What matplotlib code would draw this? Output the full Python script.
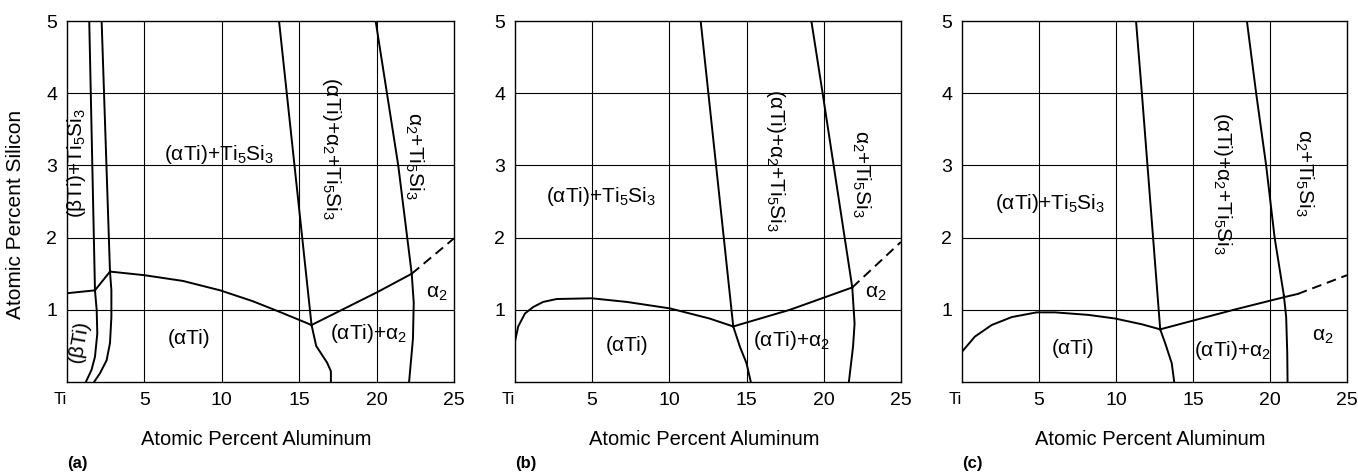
# Ti-Al-Si isothermal sections, Ti-rich corner: three panels (a), (b), (c)
from matplotlib import pyplot as plt
import matplotlib

matplotlib.use('Agg')
plt.rcParams['font.family'] = ['Liberation Sans', 'DejaVu Sans']
plt.rcParams['mathtext.fontset'] = 'custom'
plt.rcParams['mathtext.rm'] = 'Liberation Sans'
plt.rcParams['mathtext.it'] = 'Liberation Sans:italic'

# Axis ticks
x_ticks = [0, 5, 10, 15, 20, 25]
x_ticklabels = ['Ti', '5', '10', '15', '20', '25']
y_ticks = [1, 2, 3, 4, 5]

# ---- panel (a) boundaries: x = at.% Al, y = at.% Si
a_bti_top_x = [1.44, 1.81]
a_bti_top_y = [5.0, 1.27]
a_bti_low_x = [1.81, 1.92, 1.96, 1.81, 1.59, 1.22]
a_bti_low_y = [1.27, 1.0, 0.67, 0.35, 0.17, 0.0]
a_ati_top_x = [2.24, 2.78]
a_ati_top_y = [5.0, 1.53]
a_ati_low_x = [2.78, 2.87, 2.87, 2.78, 2.56, 2.13, 1.75]
a_ati_low_y = [1.53, 1.27, 0.90, 0.54, 0.30, 0.12, 0.0]
a_tie_left_x = [0.0, 1.81, 2.78]
a_tie_left_y = [1.23, 1.27, 1.53]
a_solv_x = [2.78, 5.0, 7.5, 9.9, 12.0, 13.76, 15.8]
a_solv_y = [1.53, 1.48, 1.40, 1.27, 1.12, 0.97, 0.79]
a_three_x = [13.7, 15.8]
a_three_y = [5.0, 0.79]
a_a2low_x = [15.8, 16.1, 16.8, 17.05, 17.05]
a_a2low_y = [0.79, 0.5, 0.27, 0.15, 0.0]
a_tie_right_x = [15.8, 20.0, 22.27]
a_tie_right_y = [0.79, 1.24, 1.50]
a_dash_x = [22.27, 25.0]
a_dash_y = [1.50, 1.99]
a_a2top_x = [19.94, 21.4, 22.27]
a_a2top_y = [5.0, 3.0, 1.50]
a_a2right_x = [22.27, 22.4, 22.35, 22.1]
a_a2right_y = [1.50, 1.1, 0.6, 0.0]

# ---- panel (b)
b_solv_x = [0.0, 0.21, 0.65, 1.19, 1.83, 2.7, 4.97, 7.23, 10.04, 12.6, 14.14]
b_solv_y = [0.56, 0.77, 0.95, 1.04, 1.11, 1.15, 1.16, 1.11, 1.02, 0.88, 0.77]
b_three_x = [12.03, 14.14]
b_three_y = [5.0, 0.77]
b_a2low_x = [14.14, 14.57, 15.0, 15.28]
b_a2low_y = [0.77, 0.49, 0.26, 0.0]
b_tie_right_x = [14.14, 17.8, 21.85]
b_tie_right_y = [0.77, 1.0, 1.31]
b_dash_x = [21.85, 25.0]
b_dash_y = [1.31, 1.94]
b_a2top_x = [19.2, 19.93, 21.85]
b_a2top_y = [5.0, 4.0, 1.31]
b_a2right_x = [21.85, 22.0, 21.9, 21.63]
b_a2right_y = [1.31, 0.81, 0.49, 0.0]

# ---- panel (c)
c_solv_x = [0.0, 0.84, 1.93, 3.23, 4.85, 6.04, 8.21, 9.94, 11.68, 12.87]
c_solv_y = [0.42, 0.63, 0.79, 0.90, 0.965, 0.965, 0.93, 0.88, 0.80, 0.73]
c_three_x = [11.3, 11.68, 12.87]
c_three_y = [5.0, 4.0, 0.73]
c_a2low_x = [12.87, 13.19, 13.62, 13.78]
c_a2low_y = [0.73, 0.54, 0.26, 0.0]
c_tie_right_x = [12.87, 17.63, 21.0, 21.8]
c_tie_right_y = [0.73, 1.0, 1.18, 1.22]
c_dash_x = [21.8, 25.0]
c_dash_y = [1.22, 1.48]
c_a2top_x = [18.5, 19.1, 19.75, 20.3, 20.9]
c_a2top_y = [5.0, 4.0, 3.0, 2.0, 1.2]
c_a2right_x = [20.9, 21.05, 21.12, 21.14]
c_a2right_y = [1.2, 0.9, 0.4, 0.0]

# Region labels (text, x, y, rotation)
a_labels = [
    ('(αTi)+Ti$_5$Si$_3$', 9.8, 3.15, 0),
    ('(βTi)+Ti$_5$Si$_3$', 0.63, 3.03, 90),
    ('(βTi)', 0.8, 0.57, 80),
    ('(αTi)', 7.9, 0.61, 0),
    ('(αTi)+α$_2$+Ti$_5$Si$_3$', 17.1, 3.24, -90),
    ('α$_2$+Ti$_5$Si$_3$', 22.4, 3.13, -90),
    ('α$_2$', 23.9, 1.23, 0),
    ('(αTi)+α$_2$', 19.5, 0.67, 0),
]
b_labels = [
    ('(αTi)+Ti$_5$Si$_3$', 5.6, 2.57, 0),
    ('(αTi)', 7.27, 0.51, 0),
    ('(αTi)+α$_2$+Ti$_5$Si$_3$', 16.9, 3.07, -90),
    ('α$_2$+Ti$_5$Si$_3$', 22.4, 2.89, -90),
    ('α$_2$', 23.4, 1.23, 0),
    ('(αTi)+α$_2$', 17.9, 0.58, 0),
]
c_labels = [
    ('(αTi)+Ti$_5$Si$_3$', 5.72, 2.47, 0),
    ('(αTi)', 7.23, 0.47, 0),
    ('(αTi)+α$_2$+Ti$_5$Si$_3$', 16.9, 2.75, -90),
    ('α$_2$+Ti$_5$Si$_3$', 22.2, 2.9, -90),
    ('α$_2$', 23.4, 0.63, 0),
    ('(αTi)+α$_2$', 17.6, 0.44, 0),
]

fig = plt.figure(figsize=(13.58, 4.74), dpi=100)
lefts = [0.0493, 0.3792, 0.7084]
widths = [0.285, 0.2842, 0.2835]
captions = ['(a)', '(b)', '(c)']

a_lines = [(a_bti_top_x, a_bti_top_y), (a_bti_low_x, a_bti_low_y),
           (a_ati_top_x, a_ati_top_y), (a_ati_low_x, a_ati_low_y),
           (a_tie_left_x, a_tie_left_y), (a_solv_x, a_solv_y),
           (a_three_x, a_three_y), (a_a2low_x, a_a2low_y),
           (a_tie_right_x, a_tie_right_y), (a_a2top_x, a_a2top_y),
           (a_a2right_x, a_a2right_y)]
b_lines = [(b_solv_x, b_solv_y), (b_three_x, b_three_y), (b_a2low_x, b_a2low_y),
           (b_tie_right_x, b_tie_right_y), (b_a2top_x, b_a2top_y),
           (b_a2right_x, b_a2right_y)]
c_lines = [(c_solv_x, c_solv_y), (c_three_x, c_three_y), (c_a2low_x, c_a2low_y),
           (c_tie_right_x, c_tie_right_y), (c_a2top_x, c_a2top_y),
           (c_a2right_x, c_a2right_y)]
all_lines = [a_lines, b_lines, c_lines]
all_dash = [(a_dash_x, a_dash_y), (b_dash_x, b_dash_y), (c_dash_x, c_dash_y)]
all_labels = [a_labels, b_labels, c_labels]

for i in range(3):
    ax = fig.add_axes([lefts[i], 0.194, widths[i], 0.7616])
    ax.set_xlim(0, 25)
    ax.set_ylim(0, 5)
    ax.set_xticks(x_ticks)
    ax.set_xticklabels(x_ticklabels)
    ax.set_yticks(y_ticks)
    ax.tick_params(length=0, labelsize=14, pad=7)
    ti = ax.get_xticklabels()[0]
    ti.set_ha('right')
    ti.set_fontsize(12)
    for s in ax.spines.values():
        s.set_linewidth(1.0)
    for gx in [5, 10, 15, 20]:
        ax.axvline(gx, color='black', lw=0.8)
    for gy in [1, 2, 3, 4]:
        ax.axhline(gy, color='black', lw=0.8)
    for lx, ly in all_lines[i]:
        ax.plot(lx, ly, '-k', lw=1.4, solid_joinstyle='round')
    ax.plot(all_dash[i][0], all_dash[i][1], color='black', lw=1.4, ls=(0, (5, 3)))
    for txt, tx, ty, rot in all_labels[i]:
        ax.text(tx, ty, txt, rotation=rot, ha='center', va='center',
                fontsize=15, rotation_mode='anchor')
    ax.set_xlabel('Atomic Percent Aluminum', fontsize=14.5)
    ax.xaxis.set_label_coords(0.49, -0.133)
    if i == 0:
        ax.set_ylabel('Atomic Percent Silicon', fontsize=15)
        ax.yaxis.set_label_coords(-0.109, 0.463)
    ax.text(0.0, -0.205, captions[i], transform=ax.transAxes, fontsize=12,
            fontweight='bold', ha='left', va='top')

plt.savefig('out.png', dpi=100)
